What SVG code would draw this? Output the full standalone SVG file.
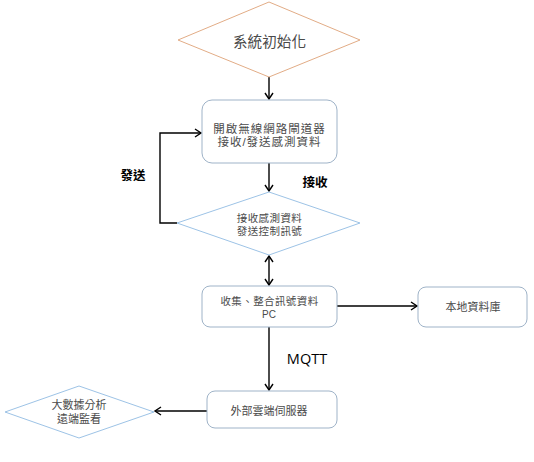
<svg xmlns="http://www.w3.org/2000/svg" width="534" height="462" viewBox="0 0 534 462">
<defs>
<style>
.bg{fill:#ffffff}
.box{fill:#ffffff;stroke:#9fb3c8;stroke-width:1}
.dia{fill:#ffffff;stroke:#9dc3e6;stroke-width:1}
.dia-o{fill:#ffffff;stroke:#e2ac86;stroke-width:1}
.t{font-family:"Liberation Sans","Noto Sans CJK TC","Noto Sans CJK SC",sans-serif;fill:#4a4a4a;text-anchor:middle}
.lbl{font-family:"Liberation Sans","Noto Sans CJK TC","Noto Sans CJK SC",sans-serif;fill:#000000;font-weight:bold;text-anchor:middle;font-size:12.5px}
.lat{font-family:"Open Sans","Liberation Sans",sans-serif;text-anchor:middle}
.con{fill:none;stroke:#000000;stroke-width:1.4}
</style>
<marker id="ah" markerUnits="userSpaceOnUse" markerWidth="10" markerHeight="12" refX="7" refY="5" orient="auto-start-reverse" viewBox="0 0 10 10">
<path d="M1,1 L7,5 L1,9" fill="none" stroke="#000000" stroke-width="1.4"/>
</marker>
</defs>
<rect class="bg" x="0" y="0" width="534" height="462"/>
<g id="connectors">
<line class="con" x1="269" y1="77" x2="269" y2="99" marker-end="url(#ah)"/>
<line class="con" x1="269" y1="163" x2="269" y2="191" marker-end="url(#ah)"/>
<polyline class="con" points="177,223 160,223 160,133 201,133" marker-end="url(#ah)"/>
<line class="con" x1="269" y1="256" x2="269" y2="285" marker-start="url(#ah)" marker-end="url(#ah)"/>
<line class="con" x1="337" y1="306" x2="417" y2="306" marker-end="url(#ah)"/>
<line class="con" x1="269" y1="327" x2="269" y2="390" marker-end="url(#ah)"/>
<line class="con" x1="207" y1="411" x2="155" y2="411" marker-end="url(#ah)"/>
<text class="lbl" x="133" y="180">發送</text>
<text class="lbl" x="315" y="187">接收</text>
<text class="lat" x="307" y="364" font-size="14.5">MQTT</text>
</g>
<g id="init">
<polygon class="dia-o" points="178,40 269,2 360,40 269,77"/>
<text class="t" x="269.5" y="46.5" font-size="14.6" fill="#595959">系統初始化</text>
</g>
<g id="gateway">
<rect class="box" x="202" y="100" width="135" height="63" rx="10"/>
<text class="t" x="269.5" y="132.5" font-size="11.5" letter-spacing="1">開啟無線網路閘道器</text>
<text class="t" x="269.5" y="145.5" font-size="11.5" letter-spacing="1">接收/發送感測資料</text>
</g>
<g id="recv">
<polygon class="dia" points="177,223 269,192 360,223 269,255"/>
<text class="t" x="269.5" y="222" font-size="10.5" letter-spacing="0.4">接收感測資料</text>
<text class="t" x="269.5" y="235" font-size="10.5" letter-spacing="0.4">發送控制訊號</text>
</g>
<g id="pc">
<rect class="box" x="202" y="286" width="135" height="41" rx="8"/>
<text class="t" x="269.5" y="305" font-size="10.5" letter-spacing="0.4">收集、整合訊號資料</text>
<text class="t" x="269" y="318" font-size="10">PC</text>
</g>
<g id="localdb">
<rect class="box" x="418" y="287" width="109" height="40" rx="8"/>
<text class="t" x="473" y="311" font-size="11">本地資料庫</text>
</g>
<g id="cloud">
<rect class="box" x="207" y="391" width="130" height="37" rx="8"/>
<text class="t" x="269" y="415" font-size="11">外部雲端伺服器</text>
</g>
<g id="analysis">
<polygon class="dia" points="5,412 79,386 154,412 79,438"/>
<text class="t" x="79" y="408.5" font-size="11">大數據分析</text>
<text class="t" x="79" y="423" font-size="11">遠端監看</text>
</g>
</svg>
